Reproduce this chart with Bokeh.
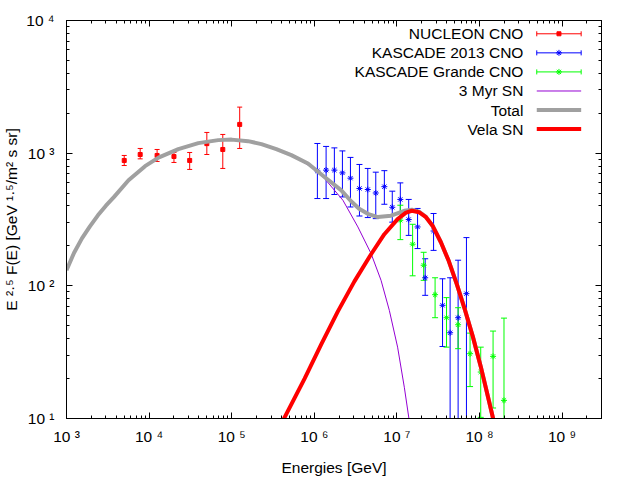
from bokeh.plotting import figure
from bokeh.models import (ColumnDataSource, FixedTicker, LogAxis, Whisker, TeeHead,
                          Range1d, LinearScale, CustomJSTickFormatter)
from bokeh.core.properties import value
from bokeh.embed import file_html
from bokeh.resources import INLINE

FONT = "Liberation Sans"
FS = "15.5px"

# ---------------- data ----------------
# NUCLEON CNO
nuc_E = [5.0e3, 7.8e3, 1.25e4, 2.0e4, 3.1e4, 5.0e4, 7.8e4, 1.25e5]
nuc_F = [881, 977, 961, 944, 881, 1180, 1066, 1647]
nuc_lo = [807, 906, 866, 851, 754, 977, 767, 1085]
nuc_hi = [961, 1085, 1066, 1012, 1012, 1433, 1384, 2224]

# KASCADE 2013 CNO
kas_E = [1.09e6, 1.39e6, 1.75e6, 2.19e6, 2.74e6, 3.52e6, 4.44e6, 5.55e6, 7.05e6, 8.79e6,
         1.10e7, 1.39e7, 1.78e7, 2.20e7, 2.78e7, 3.57e7, 4.41e7, 5.51e7, 6.95e7]
kas_F = [735, 745, 745, 710, 648, 542, 532, 501, 559, 391,
         448, 316, 278, 115, 259, 71.3, 44.3, 57.5, 87.3]
kas_hi = [1183, 1124, 1096, 1040, 929, 822, 767, 719, 738, 517,
          597, 448, 383, 160, 351, 113, 115, 156, 231]
kas_lo = [455, 455, 488, 468, 393, 336, 327, 321, 412, 302,
          352, 240, 191, 84.8, 185, 34.9, 1, 1, 1]

# KASCADE Grande CNO
kg_E = [1.10e7, 1.55e7, 2.11e7, 2.90e7, 3.99e7, 5.51e7, 7.69e7, 1.035e8, 1.46e8, 1.98e8]
kg_F = [312, 206, 143, 85.8, 57.5, 50.9, 30.8, 22.4, 29.4, 13.7]
kg_hi = [405, 291, 179, 115, 81.5, 68.4, 44.0, 34.5, 45.6, 57.1]
kg_lo = [223, 119, 110, 57.5, 34.5, 33.6, 17.4, 10.2, 12.0, 1]

# 3 Myr SN
myr_E = [1.0e3, 1.232e3, 1.538e3, 1.921e3, 2.40e3, 3.00e3, 3.744e3, 5.636e3, 8.934e3, 1.297e4,
         2.26e4, 3.94e4, 6.87e4, 9.95e4, 1.58e5, 2.29e5, 3.47e5, 5.27e5, 9.19e5, 1.33e6,
         2.22e6, 3.37e6, 4.87e6, 6.43e6, 8.10e6, 1.02e7, 1.23e7, 1.41e7]
myr_F = [131, 177, 228, 281, 340, 402, 466, 625, 798, 925,
         1072, 1190, 1254, 1265, 1232, 1170, 1072, 966, 788, 644,
         442, 278, 175, 110, 65.3, 34.5, 17.2, 9.66]

# Total
tot_E = [1.0e3, 1.232e3, 1.538e3, 1.921e3, 2.40e3, 3.00e3, 3.744e3, 5.636e3, 8.934e3, 1.297e4,
         2.26e4, 3.94e4, 6.87e4, 9.95e4, 1.58e5, 2.29e5, 3.47e5, 5.27e5, 8.38e5, 1.33e6,
         2.11e6, 2.79e6, 3.49e6, 4.44e6, 5.87e6, 8.49e6, 1.23e7, 1.52e7, 1.85e7, 2.25e7,
         2.73e7, 3.41e7, 4.26e7, 5.31e7, 6.64e7, 8.29e7, 1.035e8, 1.29e8, 1.49e8]
tot_F = [131, 177, 228, 281, 340, 402, 466, 625, 798, 925,
         1072, 1190, 1254, 1265, 1232, 1170, 1072, 966, 836, 662,
         526, 434, 381, 349, 330, 338, 368, 375, 362, 331,
         281, 213, 153, 103, 66.5, 41.6, 24.7, 13.9, 9.5]

# Vela SN
vela_E = [4.18e5, 7.63e5, 1.213e6, 1.93e6, 3.06e6, 4.87e6, 7.05e6, 1.02e7, 1.29e7, 1.52e7,
          1.85e7, 2.25e7, 2.73e7, 3.41e7, 4.26e7, 5.31e7, 6.64e7, 8.29e7, 1.035e8, 1.29e8,
          1.49e8]
vela_F = [9.66, 20.0, 36.2, 64.2, 108, 173, 245, 318, 356, 368,
          359, 329, 281, 213, 153, 103, 66.5, 41.6, 24.7, 13.9,
          9.5]

x_major = [1e3, 1e4, 1e5, 1e6, 1e7, 1e8, 1e9]
y_major = [1e1, 1e2, 1e3, 1e4]

legend_labels = ["NUCLEON CNO", "KASCADE 2013 CNO", "KASCADE Grande CNO",
                 "3 Myr SN", "Total", "Vela SN"]

# ---------------- styles ----------------
C_NUC = "#ff0000"
C_KAS = "#0000ff"
C_KG = "#00ff00"
C_MYR = "#9400d3"
C_TOT = "#a0a0a0"
C_VELA = "#ff0000"

x_minor = [k * 10.0 ** n for n in range(3, 10) for k in range(2, 10) if k * 10.0 ** n <= 3e9]
y_minor = [k * 10.0 ** n for n in range(1, 4) for k in range(2, 10)]

p = figure(width=640, height=480, x_axis_type="log", y_axis_type="log",
           x_range=Range1d(1e3, 3e9), y_range=Range1d(10, 1e4),
           output_backend="svg", toolbar_location=None,
           min_border_left=64, min_border_right=39, min_border_top=20, min_border_bottom=62)
p.outline_line_color = "black"
p.outline_line_width = 1
p.outline_line_alpha = 1
p.grid.visible = False
p.background_fill_color = "white"
p.border_fill_color = "white"

fmt = CustomJSTickFormatter(code="""
const sup = {'0':'\u2070','1':'\u00b9','2':'\u00b2','3':'\u00b3','4':'\u2074','5':'\u2075',
             '6':'\u2076','7':'\u2077','8':'\u2078','9':'\u2079','-':'\u207b'};
const e = Math.round(Math.log10(tick)).toString();
return '10 ' + e.split('').map(c => sup[c]).join('');
""")
blank = CustomJSTickFormatter(code="return '';")


def style_axis(ax, major, minor):
    ax.ticker = FixedTicker(ticks=major, minor_ticks=minor)
    ax.major_tick_in = 6
    ax.major_tick_out = 0
    ax.minor_tick_in = 3
    ax.minor_tick_out = 0
    ax.axis_line_color = "black"
    ax.major_tick_line_color = "black"
    ax.minor_tick_line_color = "black"
    ax.major_label_text_font = FONT
    ax.major_label_text_font_size = FS
    ax.major_label_text_color = "black"
    ax.axis_label_text_font = FONT
    ax.axis_label_text_font_size = FS
    ax.axis_label_text_font_style = "normal"
    ax.axis_label_text_color = "black"


style_axis(p.xaxis[0], x_major, x_minor)
style_axis(p.yaxis[0], y_major, y_minor)
p.xaxis[0].formatter = fmt
p.yaxis[0].formatter = fmt
p.xaxis[0].major_label_standoff = 9
p.xaxis[0].axis_label_standoff = 11
p.yaxis[0].major_label_standoff = 12
p.yaxis[0].axis_label_standoff = 3
p.xaxis[0].axis_label = "Energies [GeV]"
p.yaxis[0].axis_label = "E \u00b2\u00b7\u2075 F(E) [GeV \u00b9\u00b7\u2075/m\u00b2 s sr]"

top_ax = LogAxis(formatter=blank, major_label_standoff=0)
style_axis(top_ax, x_major, x_minor)
top_ax.major_label_text_font_size = "0px"
right_ax = LogAxis(formatter=blank, major_label_standoff=0)
style_axis(right_ax, y_major, y_minor)
right_ax.major_label_text_font_size = "0px"
p.add_layout(top_ax, "above")
p.add_layout(right_ax, "right")


def errbars(E, F, lo, hi, color, marker, size, head):
    src = ColumnDataSource(dict(x=E, y=F, lo=lo, hi=hi))
    w = Whisker(source=src, base="x", upper="hi", lower="lo", dimension="height",
                line_color=color, line_width=1, level="underlay",
                upper_head=TeeHead(size=head, line_color=color, line_width=1),
                lower_head=TeeHead(size=head, line_color=color, line_width=1))
    p.add_layout(w)
    if marker == "square":
        p.scatter("x", "y", source=src, marker=marker, size=size,
                  fill_color=color, line_color=color)
    else:
        p.scatter("x", "y", source=src, marker=marker, size=size,
                  line_color=color, line_width=1)


errbars(nuc_E, nuc_F, nuc_lo, nuc_hi, C_NUC, "square", 4, 5)
errbars(kas_E, kas_F, kas_lo, kas_hi, C_KAS, "asterisk", 6, 6)
errbars(kg_E, kg_F, kg_lo, kg_hi, C_KG, "asterisk", 6, 6)

p.line(myr_E, myr_F, line_color=C_MYR, line_width=1)
p.line(tot_E, tot_F, line_color=C_TOT, line_width=4, line_join="round")
p.line(vela_E, vela_F, line_color=C_VELA, line_width=4, line_join="round")

# ---------------- key (frame-fraction coordinates) ----------------
p.extra_x_ranges = {"lx": Range1d(0, 1)}
p.extra_y_ranges = {"ly": Range1d(0, 1)}
p.extra_x_scales = {"lx": LinearScale()}
p.extra_y_scales = {"ly": LinearScale()}

LEG_TX = 0.854
LEG_X0, LEG_X1, LEG_XM = 0.879, 0.962, 0.9205
LEG_Y0, LEG_DY = 0.9666, 0.0479
CAP = 0.0063
rows = [LEG_Y0 - i * LEG_DY for i in range(len(legend_labels))]
leg_colors = [C_NUC, C_KAS, C_KG, C_MYR, C_TOT, C_VELA]
leg_widths = [1, 1, 1, 1, 4, 4]

p.text(x=[LEG_TX] * len(rows), y=rows, text=legend_labels,
       x_range_name="lx", y_range_name="ly",
       text_align="right", text_baseline="middle",
       text_font=value(FONT), text_font_size=FS, text_color="black")
for i, y in enumerate(rows):
    p.segment(x0=[LEG_X0], y0=[y], x1=[LEG_X1], y1=[y], x_range_name="lx", y_range_name="ly",
              line_color=leg_colors[i], line_width=leg_widths[i])
for i in range(3):
    y = rows[i]
    p.segment(x0=[LEG_X0, LEG_X1], y0=[y - CAP, y - CAP], x1=[LEG_X0, LEG_X1], y1=[y + CAP, y + CAP],
              x_range_name="lx", y_range_name="ly", line_color=leg_colors[i], line_width=1)
p.scatter(x=[LEG_XM], y=[rows[0]], marker="square", size=4, fill_color=C_NUC, line_color=C_NUC,
          x_range_name="lx", y_range_name="ly")
p.scatter(x=[LEG_XM, LEG_XM], y=[rows[1], rows[2]], marker="asterisk", size=6,
          line_color=[C_KAS, C_KG], x_range_name="lx", y_range_name="ly")

open("out.html", "w").write(file_html(p, INLINE))
